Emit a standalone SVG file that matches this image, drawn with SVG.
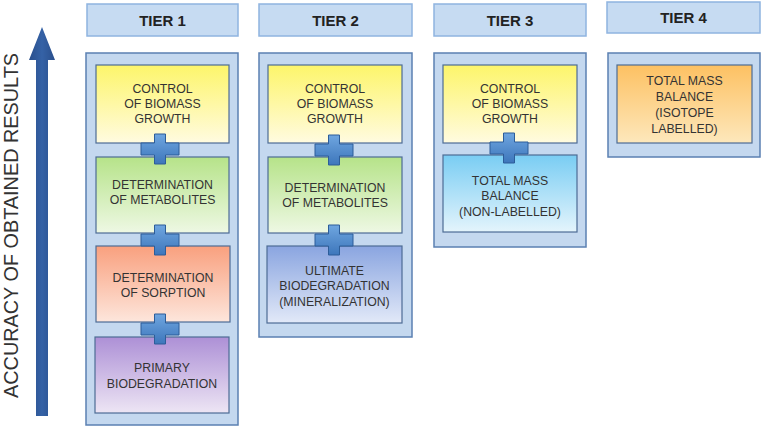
<svg xmlns="http://www.w3.org/2000/svg" width="762" height="428" viewBox="0 0 762 428">
<defs>
<linearGradient id="gY" x1="0" y1="0" x2="0" y2="1"><stop offset="0" stop-color="#fdf56a"/><stop offset="1" stop-color="#fffbe0"/></linearGradient>
<linearGradient id="gG" x1="0" y1="0" x2="0" y2="1"><stop offset="0" stop-color="#b6e389"/><stop offset="1" stop-color="#eef8e4"/></linearGradient>
<linearGradient id="gO" x1="0" y1="0" x2="0" y2="1"><stop offset="0" stop-color="#f9a07e"/><stop offset="1" stop-color="#fde6dc"/></linearGradient>
<linearGradient id="gP" x1="0" y1="0" x2="0" y2="1"><stop offset="0" stop-color="#ad90d6"/><stop offset="1" stop-color="#ede5f4"/></linearGradient>
<linearGradient id="gU" x1="0" y1="0" x2="0" y2="1"><stop offset="0" stop-color="#8aa5e0"/><stop offset="1" stop-color="#e2e9f8"/></linearGradient>
<linearGradient id="gB" x1="0" y1="0" x2="0" y2="1"><stop offset="0" stop-color="#79cdf3"/><stop offset="1" stop-color="#e4f4fc"/></linearGradient>
<linearGradient id="gT" x1="0" y1="0" x2="0" y2="1"><stop offset="0" stop-color="#fdc162"/><stop offset="1" stop-color="#fde8bc"/></linearGradient>
<linearGradient id="gPlus" x1="0" y1="0" x2="0" y2="1"><stop offset="0" stop-color="#6fa6e0"/><stop offset="1" stop-color="#3d76bb"/></linearGradient>
<linearGradient id="gArrow" x1="0" y1="0" x2="1" y2="0"><stop offset="0" stop-color="#2a4f8c"/><stop offset="0.5" stop-color="#3562a6"/><stop offset="1" stop-color="#2a4f8c"/></linearGradient>
<symbol id="plus" viewBox="-19 -15 38 30" width="38" height="30" overflow="visible">
<path d="M-5.5,-15 H5.5 V-6 H19 V6 H5.5 V15 H-5.5 V6 H-19 V-6 H-5.5 Z" fill="url(#gPlus)" stroke="#2c5d99" stroke-width="1" stroke-linejoin="round"/>
</symbol>
</defs>
<style>
.hdr{fill:#c6dbf2;stroke:#8fb4e0;stroke-width:1.5}
.panel{fill:#c4d8ef;stroke:#5b80b2;stroke-width:1.5}
.box{stroke:#4d6c94;stroke-width:1.2}
.ht{font-family:"Liberation Sans",Arial,sans-serif;font-weight:bold;font-size:15px;fill:#222;text-anchor:middle}
.bt{font-family:"Liberation Sans",Arial,sans-serif;font-size:12.3px;fill:#333;text-anchor:middle}
.side{font-family:"Liberation Sans",Arial,sans-serif;font-size:19.5px;fill:#333;text-anchor:middle}
</style>
<rect width="762" height="428" fill="#ffffff"/>

<g id="axis">
<path d="M36,416 V60 H29 L42,27 L55,60 H48 V416 Z" fill="url(#gArrow)"/>
<text class="side" transform="translate(18,225.5) rotate(-90)" textLength="345" lengthAdjust="spacingAndGlyphs">ACCURACY OF OBTAINED RESULTS</text>
</g>

<g id="tier1">
<rect class="hdr" x="87" y="4" width="151" height="32"/>
<text class="ht" x="162.5" y="25.5">TIER 1</text>
<rect class="panel" x="86" y="53" width="152" height="372"/>
</g>
<g id="t1-biomass"><rect class="box" x="96" y="65" width="133" height="78" fill="url(#gY)"/>
<text class="bt" x="162.5" y="92.5">CONTROL</text><text class="bt" x="162.5" y="107.5">OF BIOMASS</text><text class="bt" x="162.5" y="122.5">GROWTH</text></g>
<g id="t1-metabolites"><rect class="box" x="96" y="157" width="133" height="76" fill="url(#gG)"/>
<text class="bt" x="162.5" y="188.5">DETERMINATION</text><text class="bt" x="162.5" y="203.5">OF METABOLITES</text></g>
<g id="t1-sorption"><rect class="box" x="96" y="246" width="134" height="76" fill="url(#gO)"/>
<text class="bt" x="163" y="282">DETERMINATION</text><text class="bt" x="163" y="296.5">OF SORPTION</text></g>
<g id="t1-primary"><rect class="box" x="95" y="337" width="134" height="76" fill="url(#gP)"/>
<text class="bt" x="162" y="371.5">PRIMARY</text><text class="bt" x="162" y="387.5">BIODEGRADATION</text></g>

<g id="tier2">
<rect class="hdr" x="259" y="4" width="153" height="32"/>
<text class="ht" x="335.5" y="25.5">TIER 2</text>
<rect class="panel" x="259" y="53" width="153" height="284"/>
</g>
<g id="t2-biomass"><rect class="box" x="268" y="65" width="134" height="78" fill="url(#gY)"/>
<text class="bt" x="335" y="92.5">CONTROL</text><text class="bt" x="335" y="107.5">OF BIOMASS</text><text class="bt" x="335" y="122.5">GROWTH</text></g>
<g id="t2-metabolites"><rect class="box" x="268" y="157" width="134" height="76" fill="url(#gG)"/>
<text class="bt" x="335" y="191.5">DETERMINATION</text><text class="bt" x="335" y="206.5">OF METABOLITES</text></g>
<g id="t2-ultimate"><rect class="box" x="267" y="246" width="135" height="77" fill="url(#gU)"/>
<text class="bt" x="334.5" y="274.5">ULTIMATE</text><text class="bt" x="334.5" y="289.5">BIODEGRADATION</text><text class="bt" x="334.5" y="306">(MINERALIZATION)</text></g>

<g id="tier3">
<rect class="hdr" x="434" y="4" width="152" height="32"/>
<text class="ht" x="510" y="25.5">TIER 3</text>
<rect class="panel" x="434" y="53" width="152" height="194"/>
</g>
<g id="t3-biomass"><rect class="box" x="443" y="65" width="134" height="78" fill="url(#gY)"/>
<text class="bt" x="510" y="92.5">CONTROL</text><text class="bt" x="510" y="107.5">OF BIOMASS</text><text class="bt" x="510" y="123">GROWTH</text></g>
<g id="t3-massbalance"><rect class="box" x="443" y="155" width="134" height="77" fill="url(#gB)"/>
<text class="bt" x="510" y="184.5">TOTAL MASS</text><text class="bt" x="510" y="199.5">BALANCE</text><text class="bt" x="510" y="216">(NON-LABELLED)</text></g>

<g id="tier4">
<rect class="hdr" x="607" y="2" width="153" height="31"/>
<text class="ht" x="683.5" y="23">TIER 4</text>
<rect class="panel" x="608" y="53" width="152" height="104"/>
</g>
<g id="t4-massbalance"><rect class="box" x="617" y="65" width="135" height="78" fill="url(#gT)"/>
<text class="bt" x="684.5" y="84.5">TOTAL MASS</text><text class="bt" x="684.5" y="101">BALANCE</text><text class="bt" x="684.5" y="116.5">(ISOTOPE</text><text class="bt" x="684.5" y="132.5">LABELLED)</text></g>

<g id="connectors">
<use href="#plus" x="141" y="134"/>
<use href="#plus" x="141" y="225"/>
<use href="#plus" x="141" y="314"/>
<use href="#plus" x="315" y="135"/>
<use href="#plus" x="315" y="225"/>
<use href="#plus" x="490" y="133"/>
</g>
</svg>
